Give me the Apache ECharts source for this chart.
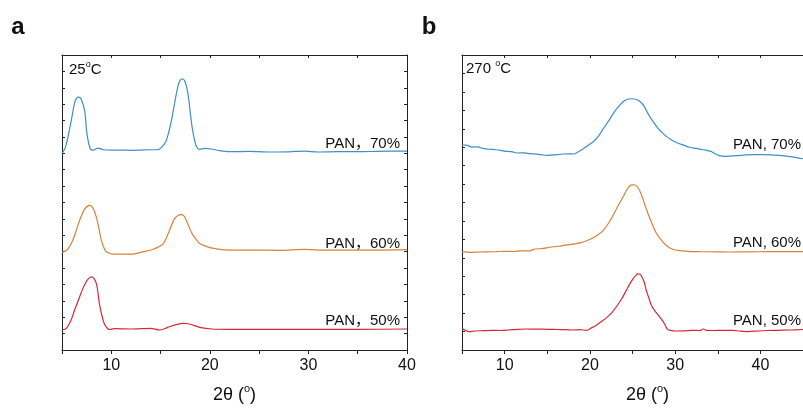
<!DOCTYPE html>
<html>
<head>
<meta charset="utf-8">
<script src="https://cdn.jsdelivr.net/npm/echarts@6/dist/echarts.min.js"></script>
<style>html,body{margin:0;padding:0;background:#fff}#c{width:803px;height:408px}</style>
</head>
<body>
<div id="c"></div>
<script>
// Panel a (25 °C)
var xA70 = [5, 5.3, 5.6, 5.94, 6.28, 6.5, 6.72, 6.95, 7.3, 7.53, 7.87, 8.2, 8.65, 9.2, 10, 11, 12, 13, 14, 14.6, 14.91, 15.3, 15.59, 16.1, 16.6, 16.9, 17.2, 17.5, 17.78, 18.2, 18.6, 18.97, 19.5, 20.3, 21, 22, 24, 26, 28, 29.6, 31, 33, 35, 37, 40];
var yA70 = [11.98, 12.3, 12.99, 14.0, 15.1, 15.38, 15.43, 15.3, 14.6, 13.2, 12.27, 12.2, 12.32, 12.22, 12.2, 12.2, 12.18, 12.2, 12.22, 12.22, 12.27, 12.5, 12.79, 14.0, 15.63, 16.35, 16.55, 16.35, 15.63, 13.6, 12.48, 12.24, 12.3, 12.25, 12.16, 12.1, 12.12, 12.08, 12.09, 12.14, 12.08, 12.1, 12.1, 12.12, 12.14];
var xA60 = [5, 5.5, 5.94, 6.4, 6.79, 7.3, 7.8, 8.15, 8.48, 8.75, 8.99, 9.25, 9.5, 10.17, 11, 12.2, 13.2, 14.2, 14.8, 15.25, 15.6, 15.9, 16.4, 16.8, 17.1, 17.35, 17.6, 17.9, 18.2, 18.6, 18.97, 19.5, 20, 21.2, 23, 25, 27, 29.6, 31, 34, 37, 40];
var yA60 = [5.95, 6.1, 6.5, 7.2, 7.92, 8.6, 8.83, 8.65, 8.12, 7.4, 6.7, 6.25, 5.99, 5.85, 5.85, 5.85, 5.99, 6.13, 6.3, 6.46, 6.85, 7.3, 8.0, 8.22, 8.26, 8.2, 7.92, 7.5, 7.1, 6.75, 6.5, 6.35, 6.25, 6.13, 6.1, 6.1, 6.08, 6.14, 6.1, 6.1, 6.1, 6.13];
var xA50 = [5, 5.44, 5.9, 6.28, 6.7, 7.12, 7.6, 8.04, 8.48, 8.82, 9.22, 9.5, 9.76, 10.35, 12, 14, 14.9, 15.4, 15.9, 16.6, 17.3, 17.8, 18.3, 19.1, 20.2, 22, 25, 30, 35, 40];
var yA50 = [1.22, 1.32, 1.8, 2.44, 3.1, 3.76, 4.3, 4.46, 4.06, 2.74, 1.72, 1.4, 1.26, 1.3, 1.28, 1.32, 1.22, 1.3, 1.42, 1.55, 1.62, 1.6, 1.52, 1.36, 1.28, 1.26, 1.26, 1.26, 1.26, 1.28];

// Panel b (270 °C)
var xB70 = [5, 5.5, 6.2, 6.8, 7.5, 8.2, 9, 10, 10.8, 11.5, 12.3, 13, 13.8, 14.5, 15, 15.8, 16.5, 16.9, 17.5, 18.1, 18.5, 19, 19.7, 20.4, 21, 21.6, 22.2, 22.75, 23.3, 23.9, 24.4, 24.9, 25.4, 25.9, 26.4, 26.8, 27.4, 28, 28.5, 29, 29.6, 30.2, 31, 31.7, 32.5, 33.3, 34.2, 34.6, 35.2, 35.8, 36.4, 37.3, 38.3, 39.3, 40.3, 41.2, 42.2, 43.5, 45];
var yB70 = [12.51, 12.5, 12.38, 12.4, 12.3, 12.25, 12.22, 12.14, 12.1, 12.02, 12.03, 11.98, 11.95, 11.9, 11.88, 11.9, 11.94, 11.96, 11.97, 11.96, 12.05, 12.2, 12.45, 12.71, 13.05, 13.52, 13.98, 14.44, 14.82, 15.15, 15.3, 15.33, 15.3, 15.15, 14.85, 14.44, 13.95, 13.52, 13.25, 13.02, 12.82, 12.65, 12.5, 12.37, 12.3, 12.22, 12.12, 12.0, 11.86, 11.82, 11.83, 11.86, 11.9, 11.92, 11.92, 11.9, 11.88, 11.8, 11.67];
var xB60 = [5, 6, 7, 8, 9, 10, 11, 12, 13, 13.4, 14.5, 15.3, 16.3, 17.3, 18.2, 19, 19.7, 20.4, 21, 21.6, 22.2, 22.75, 23.3, 23.9, 24.3, 24.7, 25.0, 25.3, 25.6, 25.9, 26.3, 26.8, 27.3, 27.8, 28.4, 29, 29.7, 30.5, 31.5, 32.9, 34.8, 36.5, 38.7, 41, 43, 45];
var yB60 = [6.0, 5.96, 5.98, 5.99, 6.0, 6.02, 6.01, 6.05, 6.05, 6.14, 6.2, 6.27, 6.33, 6.41, 6.47, 6.55, 6.68, 6.85, 7.05, 7.32, 7.75, 8.24, 8.8, 9.35, 9.75, 10.02, 10.08, 10.07, 9.93, 9.66, 9.1, 8.34, 7.7, 7.12, 6.7, 6.36, 6.15, 6.06, 6.02, 6.0, 5.99, 5.98, 5.99, 6.0, 6.0, 6.0];
var xB50 = [5, 5.4, 5.8, 6.5, 7.5, 8.5, 9.5, 10.5, 11.5, 12.6, 13.5, 14.5, 15.3, 16.2, 17.2, 18.1, 18.8, 19.6, 20.2, 20.8, 21.4, 22, 22.6, 23.1, 23.7, 24.3, 24.7, 25.1, 25.4, 25.6, 25.9, 26.1, 26.4, 26.6, 26.9, 27.2, 27.6, 28, 28.3, 28.6, 28.85, 29.1, 29.6, 30.2, 31, 32, 32.9, 33.3, 33.7, 34.5, 35.5, 36.8, 37.5, 38.3, 39.2, 40.7, 42, 43.5, 45];
var yB50 = [1.32, 1.2, 1.12, 1.16, 1.18, 1.2, 1.19, 1.22, 1.26, 1.28, 1.27, 1.27, 1.26, 1.25, 1.24, 1.22, 1.24, 1.2, 1.35, 1.53, 1.75, 1.99, 2.3, 2.64, 3.1, 3.66, 4.05, 4.37, 4.55, 4.64, 4.62, 4.47, 4.1, 3.66, 3.2, 2.75, 2.4, 2.14, 1.95, 1.73, 1.5, 1.26, 1.18, 1.16, 1.17, 1.2, 1.19, 1.28, 1.2, 1.19, 1.2, 1.2, 1.16, 1.12, 1.15, 1.19, 1.2, 1.22, 1.25];

var seriesLabelsA = ['PAN，70%', 'PAN，60%', 'PAN，50%'];
var seriesLabelsB = ['PAN, 70%', 'PAN, 60%', 'PAN, 50%'];
var xTicksShown = [10, 20, 30, 40];

function zip(xs, ys) { return xs.map(function (x, i) { return [x, ys[i]]; }); }

var BLUE = '#3f8fc8', ORANGE = '#d9813a', RED = '#d42a36';
var FONT = '"Liberation Sans", Arial, "Noto Sans CJK SC", sans-serif';
var axisCol = '#222';

function bottomX(grid, max) {
  return {
    type: 'value', gridIndex: grid, position: 'bottom', min: 5, max: max, interval: 5,
    axisLine: { show: true, onZero: false, lineStyle: { color: axisCol, width: 1 } },
    axisTick: { show: true, inside: false, length: 4, lineStyle: { color: axisCol } },
    axisLabel: {
      color: '#111', fontSize: 16, fontFamily: FONT, margin: 8,
      formatter: function (v) { return xTicksShown.indexOf(v) >= 0 ? String(v) : ''; }
    },
    splitLine: { show: false },
    name: '{a|2θ (}{s|o}{a|)}', nameLocation: 'middle', nameGap: 33,
    nameTextStyle: {
      padding: grid === 1 ? [0, 0, 0, 30] : 0,
      rich: {
        a: { fontSize: 18, fontFamily: FONT, color: '#111', lineHeight: 24 },
        s: { fontSize: 11, fontFamily: FONT, color: '#111', lineHeight: 13, verticalAlign: 'top' }
      }
    }
  };
}
function topX(grid, max) {
  return {
    type: 'value', gridIndex: grid, position: 'top', min: 5, max: max, interval: 5,
    axisLine: { show: true, onZero: false, lineStyle: { color: axisCol, width: 1 } },
    axisTick: { show: true, inside: true, length: 3, lineStyle: { color: axisCol } },
    axisLabel: { show: false }, splitLine: { show: false }
  };
}
function yAx(grid, pos, interval, visible) {
  return {
    type: 'value', gridIndex: grid, position: pos, min: 0, max: 18, interval: interval,
    axisLine: { show: visible, onZero: false, lineStyle: { color: axisCol, width: 1 } },
    axisTick: { show: visible, inside: true, length: 3, lineStyle: { color: axisCol } },
    axisLabel: { show: false }, splitLine: { show: false }
  };
}
function line(xi, yi, data, color) {
  return {
    type: 'line', xAxisIndex: xi, yAxisIndex: yi, data: data, smooth: 0.3,
    showSymbol: false, symbol: 'none', animation: false,
    lineStyle: { color: color, width: 1.2 }
  };
}
function txt(x, y, s, align, size, weight) {
  return {
    type: 'text', x: x, y: y,
    style: { text: s, fill: '#111', font: (weight || 'normal') + ' ' + size + 'px ' + FONT, textAlign: align, textVerticalAlign: 'middle' }
  };
}
function degText(x, y, num) {
  return {
    type: 'text', x: x, y: y,
    style: { text: '{a|' + num + '}{s|o}{a|C}', textVerticalAlign: 'middle',
      rich: {
        a: { fontSize: 15, fontFamily: FONT, fill: '#111', lineHeight: 20 },
        s: { fontSize: 9, fontFamily: FONT, fill: '#111', lineHeight: 11, verticalAlign: 'top' }
      } }
  };
}

var chart = echarts.init(document.getElementById('c'), null, { renderer: 'canvas' });
chart.setOption({
  animation: false,
  backgroundColor: '#fff',
  grid: [
    { left: 62, right: 396, top: 55, bottom: 58, containLabel: false, outerBoundsMode: 'none' },
    { left: 462, right: 0, top: 55, bottom: 58, containLabel: false, outerBoundsMode: 'none' }
  ],
  xAxis: [bottomX(0, 40), topX(0, 40), bottomX(1, 45), topX(1, 45)],
  yAxis: [yAx(0, 'left', 1, true), yAx(0, 'right', 1, true), yAx(1, 'left', 1.125, true), yAx(1, 'right', 1.125, false)],
  series: [
    line(0, 0, zip(xA70, yA70), BLUE),
    line(0, 0, zip(xA60, yA60), ORANGE),
    line(0, 0, zip(xA50, yA50), RED),
    line(2, 2, zip(xB70, yB70), BLUE),
    line(2, 2, zip(xB60, yB60), ORANGE),
    line(2, 2, zip(xB50, yB50), RED)
  ],
  graphic: [
    txt(18, 27, 'a', 'center', 24, 'bold'),
    txt(429, 27, 'b', 'center', 24, 'bold'),
    degText(69, 70, '25'),
    degText(466, 69, '270 '),
    txt(400, 144, seriesLabelsA[0], 'right', 15),
    txt(400, 244, seriesLabelsA[1], 'right', 15),
    txt(400, 321, seriesLabelsA[2], 'right', 15),
    txt(801, 145, seriesLabelsB[0], 'right', 15),
    txt(801, 243, seriesLabelsB[1], 'right', 15),
    txt(801, 321, seriesLabelsB[2], 'right', 15)
  ]
});
</script>
</body>
</html>
